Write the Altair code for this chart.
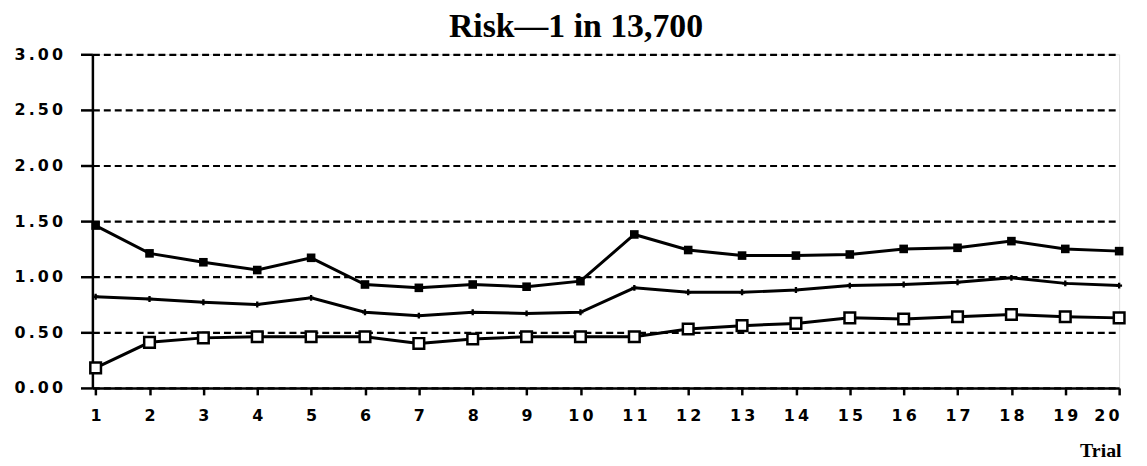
import altair as alt
import pandas as pd

trials = list(range(1, 21))
upper = [1.46, 1.21, 1.13, 1.06, 1.17, 0.93, 0.90, 0.93, 0.91, 0.96,
         1.38, 1.24, 1.19, 1.19, 1.20, 1.25, 1.26, 1.32, 1.25, 1.23]
middle = [0.82, 0.80, 0.77, 0.75, 0.81, 0.68, 0.65, 0.68, 0.67, 0.68,
          0.90, 0.86, 0.86, 0.88, 0.92, 0.93, 0.95, 0.99, 0.94, 0.92]
lower = [0.18, 0.41, 0.45, 0.46, 0.46, 0.46, 0.40, 0.44, 0.46, 0.46,
         0.46, 0.53, 0.56, 0.58, 0.63, 0.62, 0.64, 0.66, 0.64, 0.63]
y_ticks = [0, 0.5, 1.0, 1.5, 2.0, 2.5, 3.0]
title_text = "Risk\u20141 in 13,700"
x_title = "Trial"

rows = []
for name, vals in (("upper", upper), ("middle", middle), ("lower", lower)):
    for t, v in zip(trials, vals):
        rows.append({"trial": t, "value": v, "series": name})
df = pd.DataFrame(rows)

spaced = "join(split(%s, ''), '\u2009')"

x = alt.X(
    "trial:Q",
    scale=alt.Scale(domain=[0.94, 20], nice=False, zero=False),
    axis=alt.Axis(
        values=trials, title=x_title, grid=False,
        labelExpr=spaced % "datum.label",
        tickSize=7, tickWidth=2.5, labelPadding=13,
        titleFont="Liberation Serif", titleFontSize=20, titleFontWeight="bold",
        titleColor="black", titleAnchor="end", titleAlign="right",
        titleX=1036, titleY=69, titleBaseline="alphabetic",
    ),
)
y = alt.Y(
    "value:Q",
    scale=alt.Scale(domain=[0, 3], nice=False),
    axis=alt.Axis(
        values=y_ticks, title=None, grid=True,
        labelExpr=spaced % "format(datum.value, '.2f')",
        gridDash=[7, 4], gridColor="black", gridWidth=2.2, gridOpacity=1,
        tickSize=12, tickWidth=2.5, labelPadding=18,
    ),
)

base = alt.Chart(df).encode(x=x, y=y)

lines = base.mark_line(color="black", strokeWidth=3).encode(detail="series:N")
pts_upper = base.transform_filter("datum.series == 'upper'").mark_point(
    shape="square", filled=True, color="black", size=75, opacity=1)
pts_mid = base.transform_filter("datum.series == 'middle'").mark_point(
    shape="cross", filled=True, color="black", size=35, opacity=1)
pts_low = base.transform_filter("datum.series == 'lower'").mark_point(
    shape="square", filled=True, fill="white", stroke="black", strokeWidth=2.5,
    size=115, opacity=1)

chart = (
    alt.layer(lines, pts_upper, pts_mid, pts_low)
    .properties(
        width=1034, height=336,
        autosize=alt.AutoSizeParams(type="none"),
        padding={"left": 85, "top": 45, "right": 20, "bottom": 76},
        title=alt.TitleParams(
            title_text, font="Liberation Serif", fontSize=34, fontWeight="bold",
            color="black", anchor="middle", frame="group", dx=-30, offset=2,
        ),
    )
    .configure_view(stroke=None)
    .configure(background="white")
    .configure_axis(
        domainColor="black", domainWidth=2.5, tickColor="black",
        labelFont="DejaVu Sans", labelFontWeight="bold", labelFontSize=16,
        labelColor="black",
    )
)

chart.save("out.html", embed_options={"renderer": "svg", "actions": False})
